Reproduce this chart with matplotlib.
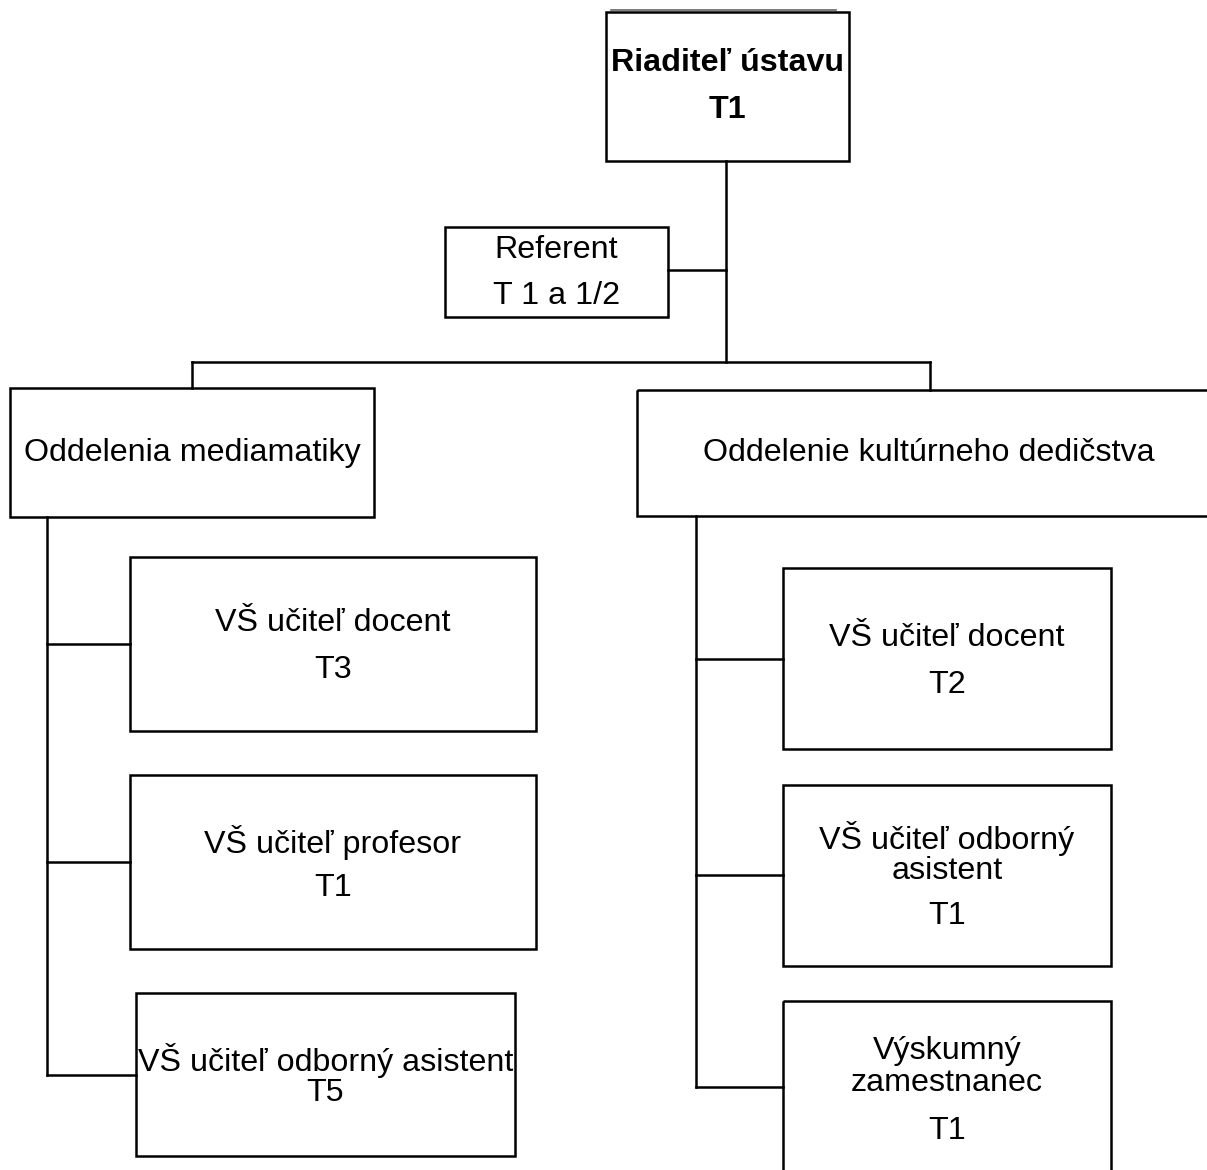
import matplotlib.pyplot as plt
from matplotlib.patches import Rectangle

plt.rcParams['font.family'] = ['Liberation Sans', 'DejaVu Sans']

# texty uzlov (riadky)
riaditel = ['Riaditeľ ústavu', 'T1']
referent = ['Referent', 'T 1 a 1/2']
oddelenia = [['Oddelenia mediamatiky'], ['Oddelenie kultúrneho dedičstva']]
mediamatika = [['VŠ učiteľ docent', 'T3'], ['VŠ učiteľ profesor', 'T1'],
               ['VŠ učiteľ odborný asistent', 'T5']]
dedicstvo = [['VŠ učiteľ docent', 'T2'], ['VŠ učiteľ odborný', 'asistent', 'T1'],
             ['Výskumný', 'zamestnanec', 'T1']]

W, H = 1207, 1170
fig = plt.figure(figsize=(W / 100, H / 100), dpi=100)
ax = fig.add_axes([0, 0, 1, 1])
ax.set_xlim(0, W)
ax.set_ylim(H, 0)
ax.axis('off')

LW = 1.8
FS = 23.2
DY = 3  # posun textu nadol

def box(x0, y0, x1, y1, lines, ys, bold=False):
    ax.add_patch(Rectangle((x0, y0), x1 - x0, y1 - y0, fill=False,
                           lw=LW, ec='black'))
    for t, ty in zip(lines, ys):
        ax.text((x0 + x1) / 2, ty + DY, t, ha='center', va='center', fontsize=FS,
                fontweight='bold' if bold else 'normal')

def line(xs, ys):
    ax.plot(xs, ys, color='black', lw=LW, solid_capstyle='projecting')

# riaditel
ax.plot([611, 836], [10, 10], color='#666666', lw=1.2)
box(606, 12, 849, 161, riaditel, [60, 107], bold=True)
line([726, 726], [161, 362])

# referent
box(445, 227, 668, 317, referent, [247, 293])
line([668, 726], [270, 270])

# oddelenia
line([192, 930], [362, 362])
line([192, 192], [362, 388])
line([930, 930], [362, 390])
box(10, 388, 374, 517, oddelenia[0], [450])
box(637, 390, 1221, 516, oddelenia[1], [450])

# mediamatika
lboxes = [(130, 557, 536, 731), (130, 775, 536, 949), (136, 993, 515, 1156)]
lys = [[620, 667], [839, 885], [1057, 1090]]
lconn = [644, 862, 1075]
line([47, 47], [517, 1075])
for (x0, y0, x1, y1), ys, cy, t in zip(lboxes, lys, lconn, mediamatika):
    line([47, x0], [cy, cy])
    box(x0, y0, x1, y1, t, ys)

# kulturne dedicstvo
rboxes = [(783, 568, 1111, 749), (783, 785, 1111, 966), (783, 1001, 1111, 1200)]
rys = [[635, 682], [836, 868, 913], [1048, 1080, 1128]]
rconn = [659, 875, 1087]
line([696, 696], [516, 1087])
for (x0, y0, x1, y1), ys, cy, t in zip(rboxes, rys, rconn, dedicstvo):
    line([696, x0], [cy, cy])
    box(x0, y0, x1, y1, t, ys)

fig.savefig('out.png', dpi=100)
